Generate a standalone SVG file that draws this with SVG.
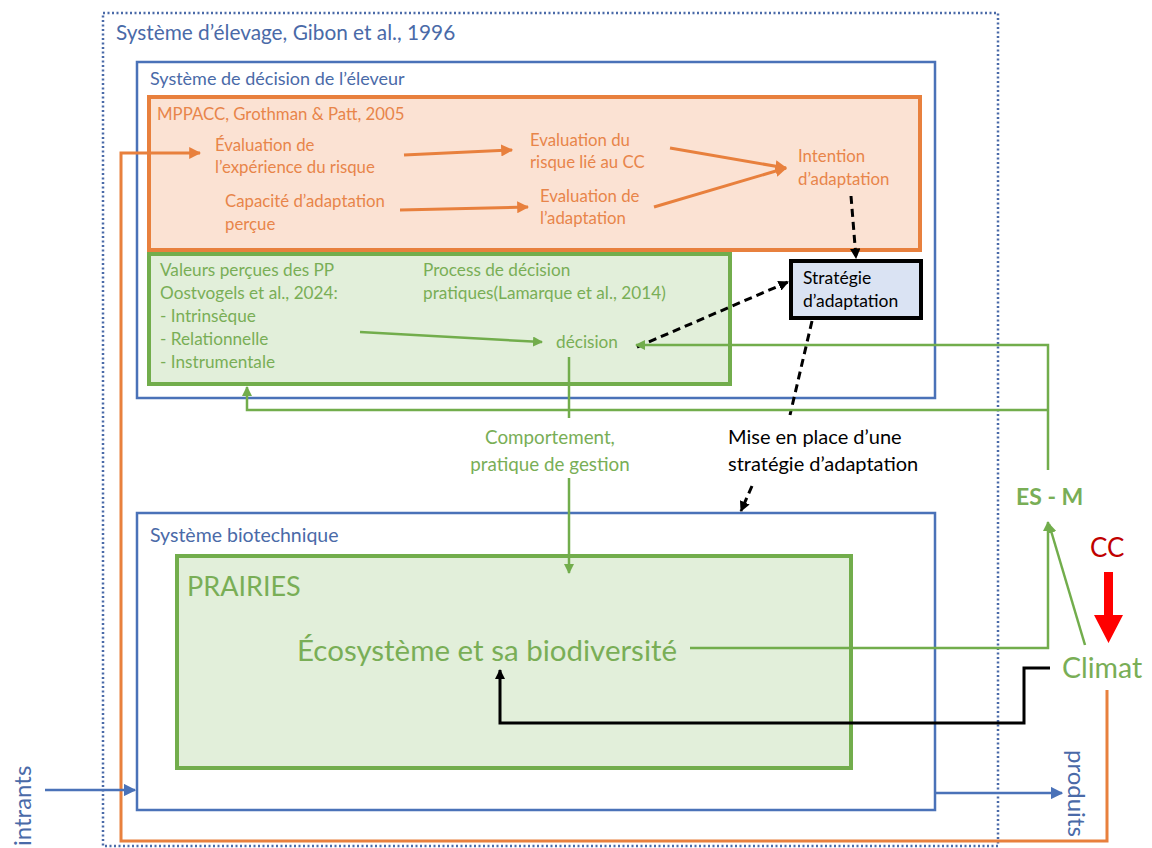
<svg xmlns="http://www.w3.org/2000/svg" width="1152" height="848" viewBox="0 0 1152 848">
<style>
text{font-family:Lato,"Open Sans","Liberation Sans",sans-serif}
.bt{fill:#4a6aa8}
.ot{fill:#e8854a;font-size:16.8px}
.gt{fill:#79ae56;font-size:17.2px}
.kt{fill:#000;font-size:20px}
.bbox{fill:none;stroke:#4a72b8;stroke-width:2.5}
.oc{stroke:#e8803d;stroke-width:3;fill:none}
.gc{stroke:#72ad4c;stroke-width:2.5;fill:none}
.dc{stroke:#000;stroke-width:3;fill:none;stroke-dasharray:8 5}
</style>
<defs>
<marker id="ao" viewBox="0 0 10 10" refX="9" refY="5" markerWidth="4" markerHeight="4" orient="auto"><path d="M0,0L10,5L0,10z" fill="#e8803d"/></marker>
<marker id="ag" viewBox="0 0 10 10" refX="9" refY="5" markerWidth="4" markerHeight="4" orient="auto"><path d="M0,0L10,5L0,10z" fill="#72ad4c"/></marker>
<marker id="ak" viewBox="0 0 10 10" refX="9" refY="5" markerWidth="3.5" markerHeight="3.5" orient="auto"><path d="M0,0L10,5L0,10z" fill="#000"/></marker>
<marker id="ab" viewBox="0 0 10 10" refX="9" refY="5" markerWidth="5" markerHeight="5" orient="auto"><path d="M0,0L10,5L0,10z" fill="#4a72b8"/></marker>
</defs>
<rect width="1152" height="848" fill="#fff"/>

<g id="elevage">
<rect x="103" y="13" width="895" height="833" fill="none" stroke="#4a6aa8" stroke-width="2.5" stroke-dasharray="2 2.5"/>
<text class="bt" x="116" y="40" font-size="20.8">Système d’élevage, Gibon et al., 1996</text>
</g>

<g id="decision-system">
<rect class="bbox" x="137" y="62" width="798" height="336"/>
<text class="bt" x="150" y="85" font-size="18">Système de décision de l’éleveur</text>
</g>

<g id="mppacc">
<rect x="149" y="97" width="771" height="153" fill="#fbe2d3" stroke="#e8803d" stroke-width="4"/>
<text class="ot" x="157" y="120" font-size="17.6">MPPACC, Grothman &amp; Patt, 2005</text>
<text class="ot" x="215" y="151">Évaluation de</text>
<text class="ot" x="215" y="173">l’expérience du risque</text>
<text class="ot" x="530" y="146">Evaluation du</text>
<text class="ot" x="530" y="168">risque lié au CC</text>
<text class="ot" x="225" y="207">Capacité d’adaptation</text>
<text class="ot" x="225" y="230">perçue</text>
<text class="ot" x="540" y="202">Evaluation de</text>
<text class="ot" x="540" y="224">l’adaptation</text>
<text class="ot" x="798" y="162">Intention</text>
<text class="ot" x="798" y="185">d’adaptation</text>
</g>

<g id="practices">
<rect x="149" y="254" width="581" height="130" fill="#e2efda" stroke="#72ad4c" stroke-width="4"/>
<text class="gt" x="160" y="276">Valeurs perçues des PP</text>
<text class="gt" x="160" y="299">Oostvogels et al., 2024:</text>
<text class="gt" x="160" y="322">- Intrinsèque</text>
<text class="gt" x="160" y="345">- Relationnelle</text>
<text class="gt" x="160" y="368">- Instrumentale</text>
<text class="gt" x="423" y="276">Process de décision</text>
<text class="gt" x="423" y="299">pratiques(Lamarque et al., 2014)</text>
<text class="gt" x="556" y="348">décision</text>
</g>

<g id="strategy">
<rect x="791" y="261" width="130" height="57" fill="#dae3f3" stroke="#000" stroke-width="4"/>
<text x="803" y="284" font-size="17.5" fill="#000">Stratégie</text>
<text x="803" y="307" font-size="17.5" fill="#000">d’adaptation</text>
</g>

<g id="labels">
<text x="550" y="444" font-size="18.8" fill="#79ae56" text-anchor="middle">Comportement,</text>
<text x="550" y="471" font-size="18.8" fill="#79ae56" text-anchor="middle">pratique de gestion</text>
<text class="kt" x="728" y="444">Mise en place d’une</text>
<text class="kt" x="728" y="471">stratégie d’adaptation</text>
</g>

<g id="biotech">
<rect class="bbox" x="137" y="513" width="798" height="297"/>
<text class="bt" x="150" y="542" font-size="19.5">Système biotechnique</text>
</g>

<g id="prairies">
<rect x="177" y="556" width="674" height="212" fill="#e2efda" stroke="#72ad4c" stroke-width="4"/>
<text x="187" y="596" font-size="27" fill="#79ae56">PRAIRIES</text>
<text x="297" y="661" font-size="29.5" fill="#79ae56">Écosystème et sa biodiversité</text>
</g>

<g id="esm"><text x="1016" y="505" font-size="23" font-weight="bold" fill="#79ae56">ES - M</text></g>
<g id="cc"><text x="1090" y="557" font-size="26" fill="#c00000">CC</text></g>
<g id="climat"><text x="1062" y="678" font-size="28.5" fill="#79ae56">Climat</text></g>
<g id="produits"><text x="1068" y="750" font-size="24" fill="#4a6aa8" transform="rotate(90 1068 750)">produits</text></g>
<g id="intrants"><text x="31" y="846" font-size="24" fill="#4a6aa8" transform="rotate(-90 31 846)">intrants</text></g>

<g id="connectors">
<line class="oc" x1="404" y1="155" x2="512" y2="150" marker-end="url(#ao)"/>
<line class="oc" x1="400" y1="210" x2="528" y2="207" marker-end="url(#ao)"/>
<line class="oc" x1="670" y1="148" x2="786" y2="168" marker-end="url(#ao)"/>
<line class="oc" x1="654" y1="207" x2="786" y2="168" marker-end="url(#ao)"/>
<polyline class="oc" stroke-width="2.5" points="1107,690 1107,841 121,841 121,153 200,153" marker-end="url(#ao)"/>

<line class="dc" x1="851" y1="196" x2="856" y2="258" marker-end="url(#ak)"/>
<line class="dc" x1="637" y1="347" x2="788" y2="282" marker-end="url(#ak)"/>
<line class="dc" x1="812" y1="321" x2="790" y2="415"/>
<line class="dc" x1="752" y1="486" x2="741" y2="511" marker-end="url(#ak)"/>

<line class="gc" x1="360" y1="332" x2="542" y2="342" marker-end="url(#ag)"/>
<polyline class="gc" points="1048,470 1048,345 636,345" marker-end="url(#ag)"/>
<polyline class="gc" points="1048,410 247,410 247,387" marker-end="url(#ag)"/>
<line class="gc" x1="569" y1="357" x2="569" y2="418"/>
<line class="gc" x1="569" y1="478" x2="569" y2="573" marker-end="url(#ag)"/>
<polyline class="gc" points="690,648 1048,648 1048,522" marker-end="url(#ag)"/>
<line class="gc" x1="1085" y1="645" x2="1049" y2="524" marker-end="url(#ag)"/>

<polyline points="1050,668 1024,668 1024,723 500,723 500,670" fill="none" stroke="#000" stroke-width="3" marker-end="url(#ak)"/>

<line x1="45" y1="790" x2="135" y2="790" stroke="#4a72b8" stroke-width="2.5" marker-end="url(#ab)"/>
<line x1="935" y1="793" x2="1062" y2="793" stroke="#4a72b8" stroke-width="2.5" marker-end="url(#ab)"/>

<path d="M1104,572H1113V615H1123L1108.5,643L1094,615H1104Z" fill="#ff0000"/>
</g>
</svg>
